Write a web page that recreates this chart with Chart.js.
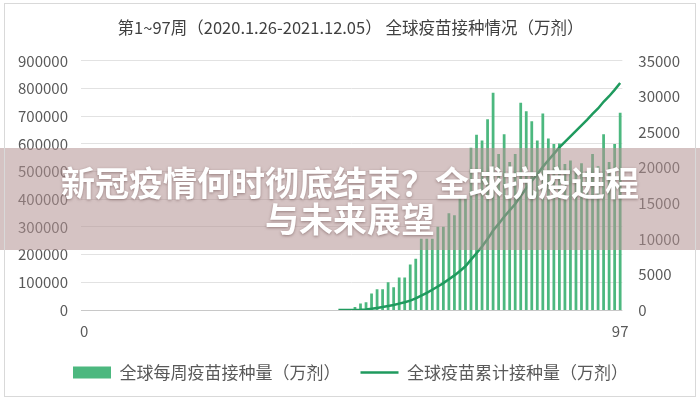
<!DOCTYPE html>
<html>
<head>
<meta charset="utf-8">
<script src="https://cdn.jsdelivr.net/npm/chart.js@4.4.1/dist/chart.umd.min.js"></script>
<style>
  html, body { margin: 0; padding: 0; background: #fff; }
  #wrap { position: relative; width: 700px; height: 400px; }
  #frame { position: absolute; left: 4px; top: 3px; width: 690px; height: 392px; border: 1px solid #d9d9d9; pointer-events: none; }
  #banner {
    position: absolute; left: 0; top: 148px; width: 700px; height: 102px;
    background: rgba(178, 146, 146, 0.55);
    color: #fff; font-family: "Noto Sans CJK SC", sans-serif; font-weight: 700;
    font-size: 34px; line-height: 36px; text-align: center;
    padding-top: 16px; box-sizing: border-box;
    text-shadow: 0 1px 3px rgba(90, 60, 60, 0.5);
  }
</style>
</head>
<body>
<div id="wrap">
  <canvas id="vaxChart"></canvas>
  <div id="banner">新冠疫情何时彻底结束？全球抗疫进程<br>与未来展望</div>
  <div id="frame"></div>
</div>
<script>
// week numbers (x axis)
const weeks = [46, 47, 48, 49, 50, 51, 52, 53, 54, 55, 56, 57, 58, 59, 60, 61, 62, 63, 64, 65,
  66, 67, 68, 69, 70, 71, 72, 73, 74, 75, 76, 77, 78, 79, 80, 81, 82, 83, 84, 85,
  86, 87, 88, 89, 90, 91, 92, 93, 94, 95, 96, 97];

// weekly doses (万剂), right axis
const weeklyDoses = [null, null, null, 430, 900, 1100, 2300, 2900, 2900, 3900, 3200, 4550, 4550, 6400, 7200, 10000, 10000, 10000, 11700, 11700,
  13600, 13300, 15900, 15700, 22800, 24600, 23800, 26800, 30500, 21900, 24700, 20800, 21900, 29100, 27900, 26500, 23800, 27600, 24100, 23300,
  23400, 20500, 21000, 19800, 20600, 19500, 21900, 20200, 24700, 20800, 23300, 27700];

// cumulative doses (万剂), left axis
const totalDoses = [0, 0, 0, 300, 1000, 2200, 4500, 7500, 10500, 14500, 18000, 23000, 28000, 34000, 42000, 52000, 62000, 73000, 85000, 97000,
  111000, 125000, 141000, 158000, 182000, 205000, 229000, 256000, 287000, 311000, 337000, 360000, 383000, 412000, 440000, 466000, 490000, 517000, 541000, 564000,
  587000, 607000, 627000, 647000, 667000, 687000, 708000, 728000, 752000, 772000, 795000, 820000];

const xTicks = [0, 97];
const seriesNames = ['全球每周疫苗接种量（万剂）', '全球疫苗累计接种量（万剂）'];
const titleText = '第1~97周（2020.1.26-2021.12.05） 全球疫苗接种情况（万剂）';

const FONT = '"Noto Sans CJK SC", sans-serif';
const tickColor = '#595959';
const barColor = '#4cb87f';
const lineColor = '#1f9a5e';

new Chart(document.getElementById('vaxChart'), {
  type: 'bar',
  data: {
    datasets: [{
      type: 'bar',
      label: seriesNames[0],
      data: weeks.map((w, i) => ({ x: w, y: weeklyDoses[i] })),
      backgroundColor: barColor,
      barPercentage: 0.5,
      categoryPercentage: 1,
      yAxisID: 'y1',
      order: 2
    }, {
      type: 'line',
      label: seriesNames[1],
      data: weeks.map((w, i) => ({ x: w, y: totalDoses[i] })),
      borderColor: lineColor,
      backgroundColor: lineColor,
      borderWidth: 2.5,
      pointRadius: 0,
      tension: 0,
      yAxisID: 'y',
      order: 1
    }]
  },
  options: {
    responsive: true,
    maintainAspectRatio: false,
    animation: false,
    layout: { padding: { top: 14, left: 5, right: 4, bottom: 9 } },
    plugins: {
      title: {
        display: true,
        text: titleText,
        color: '#404040',
        font: { family: FONT, size: 16.5, weight: 'normal' },
        padding: { top: 4, bottom: 23 }
      },
      legend: {
        position: 'bottom',
        labels: {
          color: tickColor,
          font: { family: FONT, size: 17 },
          usePointStyle: true,
          pointStyleWidth: 38,
          boxHeight: 12,
          padding: 20,
          generateLabels: chart => {
            const items = Chart.defaults.plugins.legend.labels.generateLabels(chart);
            items.sort((a, b) => a.datasetIndex - b.datasetIndex);
            items.forEach(it => {
              const isBar = it.datasetIndex === 0;
              it.pointStyle = isBar ? 'rect' : 'line';
              it.lineWidth = isBar ? 0 : 2.5;
              it.strokeStyle = isBar ? barColor : lineColor;
              it.fillStyle = isBar ? barColor : lineColor;
            });
            return items;
          }
        }
      },
      tooltip: { enabled: false }
    },
    scales: {
      x: {
        type: 'linear',
        offset: false,
        min: -0.6,
        max: 97.4,
        grid: { display: false },
        border: { display: false },
        afterBuildTicks: s => { s.ticks = xTicks.map(v => ({ value: v })); },
        ticks: { color: tickColor, font: { family: FONT, size: 15 }, padding: 4, maxRotation: 0, autoSkip: false }
      },
      y: {
        position: 'left',
        min: 0,
        max: 900000,
        border: { display: false },
        grid: {
          drawTicks: false,
          color: ctx => ctx.tick && ctx.tick.value === 0 ? '#c8c8c8' : '#e2e2e2'
        },
        ticks: { stepSize: 100000, color: tickColor, font: { family: FONT, size: 15 }, padding: 13, callback: v => String(v) }
      },
      y1: {
        position: 'right',
        min: 0,
        max: 35000,
        border: { display: false },
        grid: { display: false, drawTicks: false },
        ticks: { stepSize: 5000, color: tickColor, font: { family: FONT, size: 15 }, padding: 16, callback: v => String(v) }
      }
    }
  }
});
</script>
</body>
</html>
